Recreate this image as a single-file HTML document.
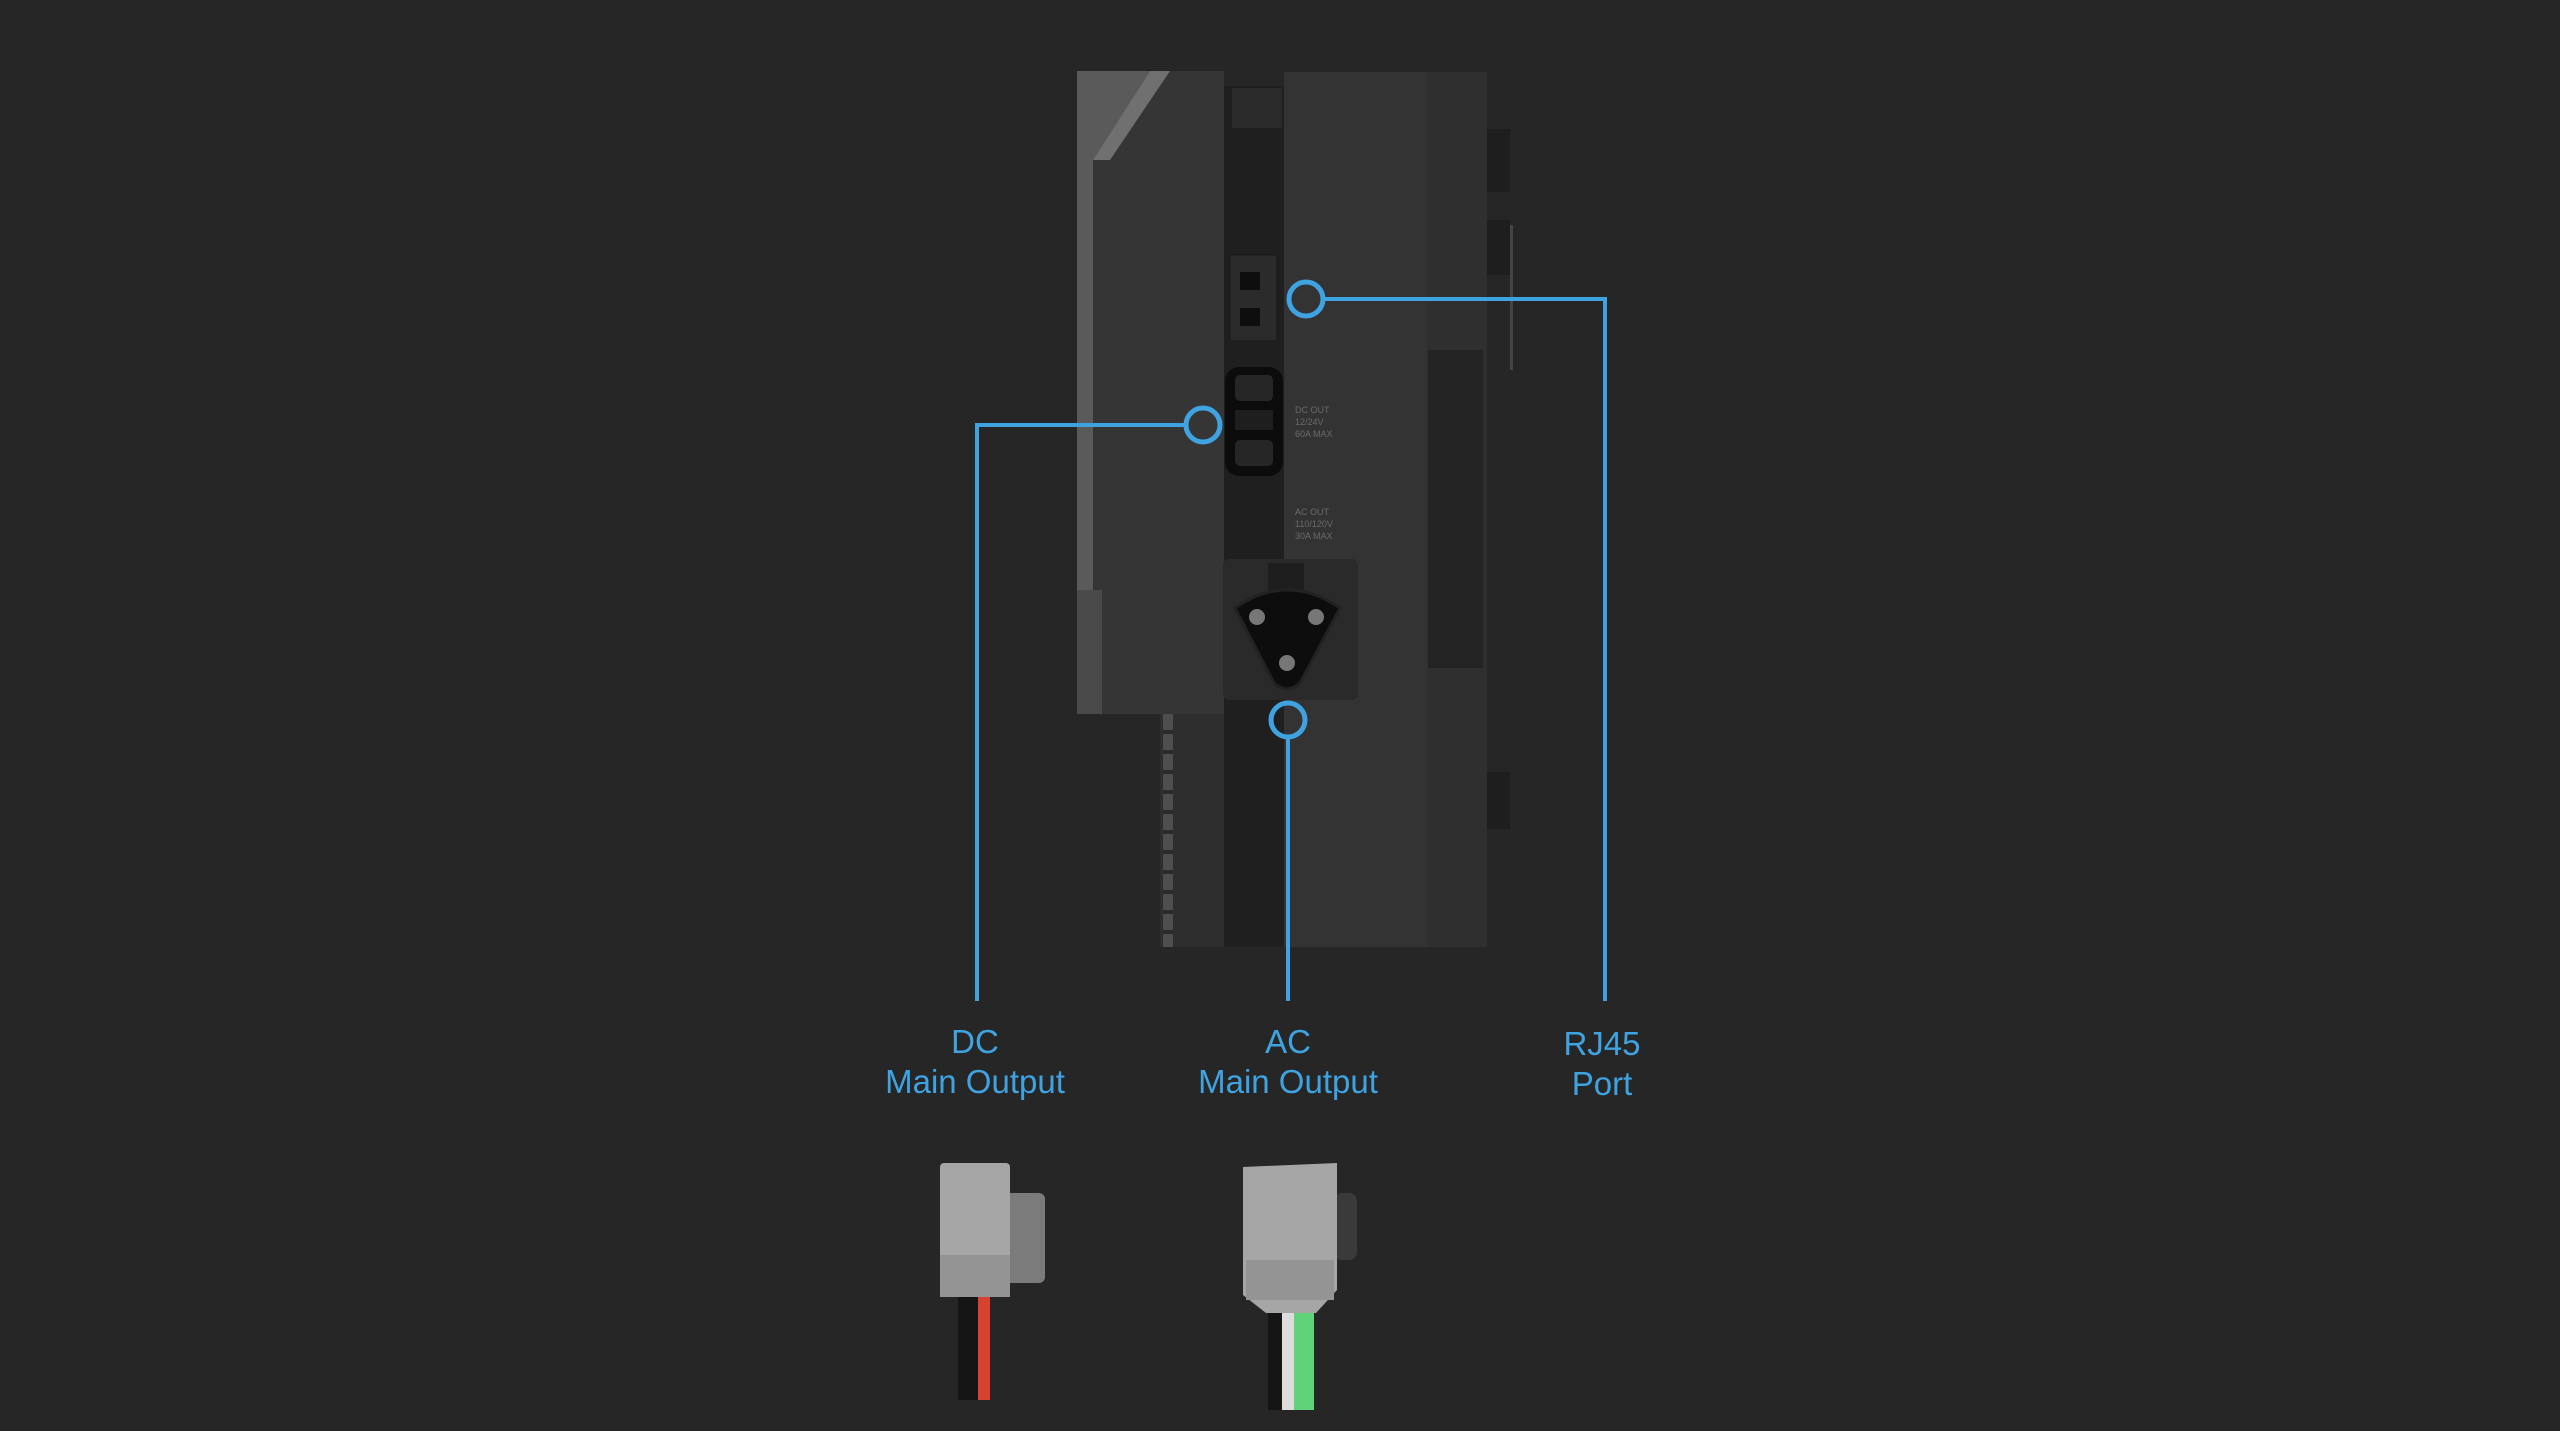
<!DOCTYPE html>
<html><head><meta charset="utf-8"><style>
html,body{margin:0;padding:0;background:#262626;}
body{width:2560px;height:1431px;position:relative;overflow:hidden;font-family:"Liberation Sans",sans-serif;}
.lbl{position:absolute;color:#3fa3e2;font-size:33px;text-align:center;line-height:40px;width:300px;}
</style></head><body>
<svg width="2560" height="1431" style="position:absolute;left:0;top:0">
<!-- device -->
<rect x="1077" y="71" width="147" height="643" fill="#353535"/>
<polygon points="1077,71 1150,71 1093,160 1093,714 1077,714" fill="#5a5a5a"/>
<polygon points="1093,160 1150,71 1170,71 1110,160" fill="#707070"/>
<rect x="1077" y="590" width="25" height="124" fill="#4a4a4a"/>
<rect x="1160" y="714" width="64" height="233" fill="#2e2e2e"/>
<rect x="1163" y="714" width="10" height="233" fill="#4e4e4e"/>
<g fill="#2a2a2a"><rect x="1163" y="730" width="10" height="4"/><rect x="1163" y="750" width="10" height="4"/><rect x="1163" y="770" width="10" height="4"/><rect x="1163" y="790" width="10" height="4"/><rect x="1163" y="810" width="10" height="4"/><rect x="1163" y="830" width="10" height="4"/><rect x="1163" y="850" width="10" height="4"/><rect x="1163" y="870" width="10" height="4"/><rect x="1163" y="890" width="10" height="4"/><rect x="1163" y="910" width="10" height="4"/><rect x="1163" y="930" width="10" height="4"/></g>
<rect x="1224" y="86" width="60" height="861" fill="#1f1f1f"/>
<rect x="1232" y="88" width="50" height="40" fill="#2a2a2a"/>
<rect x="1230" y="255" width="47" height="86" fill="#2b2b2b" stroke="#1a1a1a"/>
<rect x="1240" y="272" width="20" height="18" fill="#0e0e0e"/>
<rect x="1240" y="308" width="20" height="18" fill="#0e0e0e"/>
<rect x="1225" y="367" width="58" height="109" rx="14" fill="#0c0c0c"/>
<rect x="1235" y="375" width="38" height="26" rx="5" fill="#262626"/>
<rect x="1235" y="410" width="38" height="20" fill="#1e1e1e"/>
<rect x="1235" y="440" width="38" height="26" rx="5" fill="#262626"/>
<rect x="1284" y="72" width="203" height="875" fill="#333333"/>
<rect x="1427" y="72" width="60" height="875" fill="#2f2f2f"/>
<rect x="1428" y="350" width="55" height="318" fill="#242424"/>
<rect x="1223" y="559" width="135" height="141" rx="6" fill="#2a2a2a"/>
<rect x="1268" y="563" width="36" height="30" fill="#1e1e1e"/>
<path d="M1235,608 Q1287,572 1340,608 L1300,683 Q1287,695 1274,683 Z" fill="#0d0d0d" stroke="#222" stroke-width="3"/>
<circle cx="1257" cy="617" r="8" fill="#777"/><circle cx="1316" cy="617" r="8" fill="#777"/><circle cx="1287" cy="663" r="8" fill="#777"/>
<rect x="1487" y="129" width="23" height="63" fill="#1e1e1e"/>
<rect x="1487" y="220" width="23" height="55" fill="#1e1e1e"/>
<rect x="1510" y="225" width="3" height="145" fill="#444"/>
<rect x="1487" y="772" width="23" height="57" fill="#1e1e1e"/>
<g fill="#6a6a6a" font-family="Liberation Sans" font-size="9"><text x="1295" y="413">DC OUT</text><text x="1295" y="425">12/24V</text><text x="1295" y="437">60A MAX</text><text x="1295" y="515">AC OUT</text><text x="1295" y="527">110/120V</text><text x="1295" y="539">30A MAX</text></g>
<!-- connectors -->
<g fill="none" stroke="#3fa3e2" stroke-width="4">
<polyline points="1324,299 1605,299 1605,1001"/>
<polyline points="1185,425 977,425 977,1001"/>
<polyline points="1288,738 1288,1001"/>
<circle cx="1306" cy="299" r="17" stroke-width="5"/>
<circle cx="1203" cy="425" r="17" stroke-width="5"/>
<circle cx="1288" cy="720" r="17" stroke-width="5"/>
</g>
<!-- DC plug -->
<rect x="958" y="1290" width="20" height="110" fill="#151515"/>
<rect x="978" y="1290" width="12" height="110" fill="#d8412f"/>
<rect x="1005" y="1193" width="40" height="90" rx="6" fill="#7b7b7b"/>
<rect x="940" y="1163" width="70" height="134" rx="4" fill="#a6a6a6"/>
<rect x="940" y="1255" width="70" height="42" fill="#949494"/>
<!-- AC plug -->
<rect x="1268" y="1305" width="14" height="105" fill="#151515"/>
<rect x="1282" y="1305" width="12" height="105" fill="#dcdcdc"/>
<rect x="1294" y="1305" width="20" height="105" fill="#5fd27a"/>
<rect x="1333" y="1193" width="24" height="67" rx="8" fill="#3a3a3a"/>
<path d="M1243,1167 L1337,1163 L1337,1290 L1316,1313 L1266,1313 L1243,1295 Z" fill="#a6a6a6"/>
<rect x="1246" y="1260" width="88" height="40" fill="#949494"/>
</svg>
<div class="lbl" style="left:825px;top:1022px">DC<br>Main Output</div>
<div class="lbl" style="left:1138px;top:1022px">AC<br>Main Output</div>
<div class="lbl" style="left:1452px;top:1024px">RJ45<br>Port</div>
</body></html>
